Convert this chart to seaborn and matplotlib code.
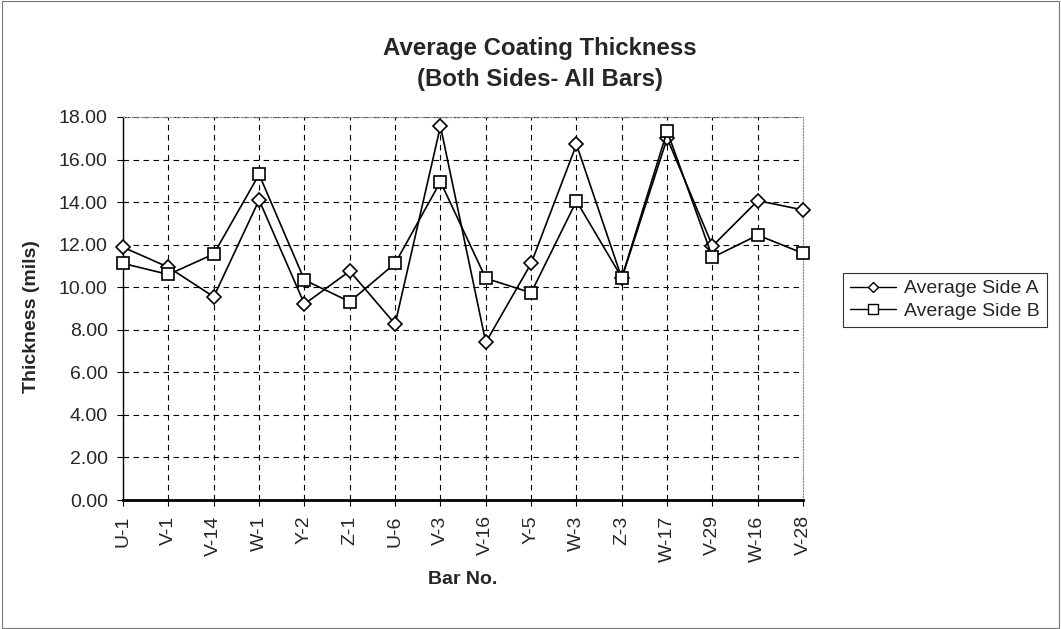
import matplotlib
matplotlib.use("Agg")
import matplotlib.pyplot as plt
import seaborn as sns
import pandas as pd
from matplotlib.lines import Line2D
from matplotlib.patches import Rectangle

bars = ["U-1", "V-1", "V-14", "W-1", "Y-2", "Z-1", "U-6", "V-3",
        "V-16", "Y-5", "W-3", "Z-3", "W-17", "V-29", "W-16", "V-28"]
side_a = [11.88, 10.94, 9.55, 14.10, 9.21, 10.76, 8.27, 17.57,
          7.41, 11.12, 16.71, 10.42, 17.00, 11.94, 14.07, 13.63]
side_b = [11.12, 10.60, 11.56, 15.30, 10.34, 9.32, 11.12, 14.96,
          10.42, 9.74, 14.05, 10.45, 17.34, 11.40, 12.45, 11.59]
series_names = ["Average Side A", "Average Side B"]
y_ticks = [0, 2, 4, 6, 8, 10, 12, 14, 16, 18]

sns.set_theme(style="white")
plt.rcParams["font.family"] = ["Liberation Sans", "DejaVu Sans"]

df = pd.DataFrame({
    "pos": list(range(len(bars))) * 2,
    "value": side_a + side_b,
    "series": [series_names[0]] * len(bars) + [series_names[1]] * len(bars),
})

fig = plt.figure(figsize=(10.61, 6.29), dpi=100)
fig.patch.set_facecolor("white")
fig.add_artist(Rectangle((0.002, 0.002), 0.996, 0.996, transform=fig.transFigure,
                         fill=False, edgecolor="#777777", linewidth=0.8))

ax = fig.add_axes([0.116, 0.205, 0.641, 0.609])

markers = {series_names[0]: "D", series_names[1]: "s"}
sizes = {series_names[0]: 7, series_names[1]: 8.5}
for name in series_names:
    sub = df[df["series"] == name]
    sns.lineplot(data=sub, x="pos", y="value", ax=ax, color="black",
                 marker=markers[name], linewidth=1.2, legend=False,
                 markersize=sizes[name])
for ln in ax.lines:
    ln.set_markerfacecolor("white")
    ln.set_markeredgecolor("black")
    ln.set_markeredgewidth(1.2)
    ln.set_zorder(3)
    ln.set_clip_on(False)

ax.set_xlim(0, len(bars) - 1)
ax.set_ylim(0, 18)
ax.set_xticks(range(len(bars)))
ax.set_xticklabels(bars, rotation=90, fontsize=14)
ax.set_yticks(y_ticks)
ax.set_yticklabels([f"{v:.2f}" for v in y_ticks], fontsize=14)
ax.tick_params(axis="both", direction="out", length=4, width=0.8, color="black",
               bottom=True, left=True)
ax.tick_params(axis="x", pad=7)
ax.tick_params(axis="y", pad=7)

ax.grid(True, color="black", linestyle=(0, (5, 4)), linewidth=0.8)
ax.set_axisbelow(True)
for side in ["top", "right"]:
    ax.spines[side].set_color("#888888")
    ax.spines[side].set_linewidth(0.8)
    ax.spines[side].set_linestyle(":")
ax.spines["left"].set_color("black")
ax.spines["left"].set_linewidth(1.0)
ax.spines["bottom"].set_color("black")
ax.spines["bottom"].set_linewidth(2.0)

ax.set_xlabel("Bar No.", fontsize=14, fontweight="bold")
ax.set_ylabel("Thickness (mils)", fontsize=14, fontweight="bold")
ax.xaxis.set_label_coords(0.5, -0.186)
ax.yaxis.set_label_coords(-0.122, 0.478)

fig.text(0.509, 0.9126, "Average Coating Thickness", ha="center", va="baseline",
         fontsize=17.3, fontweight="bold")
fig.text(0.509, 0.8633, "(Both Sides- All Bars)", ha="center", va="baseline",
         fontsize=17.3, fontweight="bold")

handles = [
    Line2D([], [], color="black", linewidth=1.0, marker="D", markersize=5.5,
           markerfacecolor="white", markeredgecolor="black"),
    Line2D([], [], color="black", linewidth=1.0, marker="s", markersize=7.5,
           markerfacecolor="white", markeredgecolor="black"),
]
leg = fig.legend(handles, series_names, loc="upper left",
                 bbox_to_anchor=(0.7945, 0.566), frameon=True, fancybox=False,
                 fontsize=14, handlelength=2.4, handletextpad=0.4,
                 borderpad=0.35, labelspacing=0.25, borderaxespad=0)
leg.get_frame().set_edgecolor("black")
leg.get_frame().set_linewidth(0.8)

fig.savefig("out.png", dpi=100)
